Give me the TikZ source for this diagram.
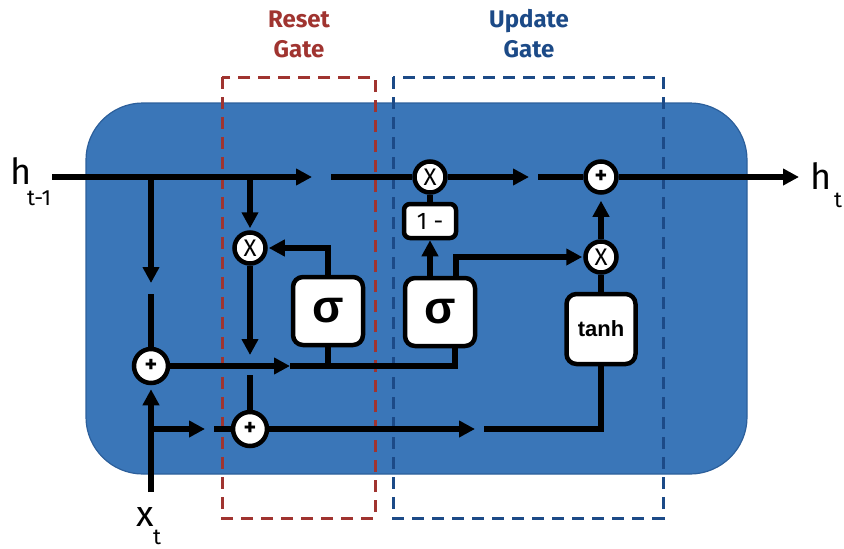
\documentclass[tikz,border=0pt]{standalone}
\usepackage{fontspec}
\setmainfont{Fira Sans}
\newfontfamily\arialfont{Liberation Sans}
\usetikzlibrary{arrows.meta,calc}
\definecolor{cellblue}{RGB}{58,118,184}
\definecolor{celledge}{RGB}{44,95,155}
\definecolor{resetred}{RGB}{160,52,48}
\definecolor{updblue}{RGB}{28,74,135}
\begin{document}
\begin{tikzpicture}[x=1pt,y=-1pt,
  wire/.style={line width=5.5pt, draw=black},
  arr/.style={wire, -{Triangle[length=16pt,width=16pt]}},
  opcirc/.style={circle, draw=black, fill=white, line width=4.5pt, minimum size=31pt, inner sep=0pt, font=\fontsize{24}{24}\selectfont},
  gatebox/.style={draw=black, fill=white, line width=4.5pt, rounded corners=10pt, inner sep=0pt},
  sigbox/.style={gatebox, minimum width=70pt, minimum height=68pt, font=\arialfont\bfseries\fontsize{46}{46}\selectfont},
  gatedash/.style={line width=3pt, dash pattern=on 12pt off 8pt},
  gatelabel/.style={align=center, font=\bfseries\fontsize{24}{30}\selectfont},
  biglbl/.style={anchor=base west, font=\fontsize{36}{36}\selectfont},
  sublbl/.style={anchor=base west, font=\fontsize{22}{22}\selectfont}
]
\useasboundingbox (0,0) rectangle (844,549);
% cell body
\draw[fill=cellblue, draw=celledge, line width=1.2pt, rounded corners=57pt] (86,103) rectangle (747,474);
% gate regions
\draw[gatedash, draw=resetred] (222,77) rectangle (375,518);
\draw[gatedash, draw=updblue] (393,77) rectangle (663,518);
\node[gatelabel, text=resetred] (lreset) at (299,34) {Reset\\Gate};
\node[gatelabel, text=updblue] (lupdate) at (529,34) {Update\\Gate};
% labels
\node[biglbl, inner sep=0pt] (hprev) at (10,184) {h};
\node[sublbl, inner sep=0pt] (hprevsub) at (27,205) {t-1};
\node[biglbl, inner sep=0pt] (hnext) at (810,189) {h};
\node[sublbl, inner sep=0pt] (hnextsub) at (834,207) {t};
\node[biglbl, inner sep=0pt] (xinlbl) at (136,526) {x};
\node[sublbl, inner sep=0pt] (xinsub) at (153,544) {t};
% operation nodes
\node[opcirc] (m1) at (430,177) {X};
\node[opcirc] (p3) at (601,177) {\textbf{+}};
\node[opcirc] (m2) at (250,248) {X};
\node[opcirc] (m3) at (601,257) {X};
\node[opcirc, minimum size=34pt] (p1) at (151,366) {\textbf{+}};
\node[opcirc, minimum size=34pt] (p2) at (250,429) {\textbf{+}};
\node[sigbox] (s1) at (328,311) {σ};
\node[sigbox] (s2) at (440,312) {σ};
\node[gatebox, minimum width=69pt, minimum height=70pt, font=\arialfont\bfseries\fontsize{22}{22}\selectfont] (th) at (601,329) {tanh};
\node[gatebox, rounded corners=6pt, minimum width=52pt, minimum height=34pt, font=\fontsize{24}{24}\selectfont] (one) at (430,221) {1 -};
% coordinates
\coordinate (hin) at (52,177);
\coordinate (b1) at (151,177);
\coordinate (b2) at (250,177);
\coordinate (g1a) at (312,177);
\coordinate (g1b) at (331,177);
\coordinate (g2a) at (529,177);
\coordinate (g2b) at (538,177);
\coordinate (hend) at (799,177);
\coordinate (g3a) at (151,283);
\coordinate (g3b) at (151,294);
\coordinate (g4a) at (250,355);
\coordinate (g4b) at (250,375);
\coordinate (g5a) at (290,366);
\coordinate (s1b) at (328,366);
\coordinate (s2b) at (455,366);
\coordinate (xin) at (151,492);
\coordinate (b3) at (151,429);
\coordinate (g6a) at (205,429);
\coordinate (g6b) at (214,429);
\coordinate (g7a) at (475,429);
\coordinate (g7b) at (484,429);
% wires
\draw[arr] (hin) -- (g1a);
\draw[wire] (g1b) -- (m1);
\draw[arr] (m1) -- (g2a);
\draw[wire] (g2b) -- (p3);
\draw[arr] (p3) -- (hend);
\draw[arr] (b1) -- (g3a);
\draw[wire] (g3b) -- (p1);
\draw[arr, shorten >=2pt] (b2) -- (m2);
\draw[arr, shorten >=1pt] (s1.north) |- (m2);
\draw[arr] (m2) -- (g4a);
\draw[wire] (g4b) -- (p2);
\draw[arr] (p1) -- (g5a);
\draw[wire] (g5a) -- (s2b) -- (s2b |- s2.south);
\draw[wire] (s1.south) -- (s1b);
\draw[arr] (s2.north -| one) -- (one);
\draw[wire] (one) -- (m1);
\draw[arr, shorten >=1pt] ([xshift=16pt]s2.north) |- (m3);
\draw[wire] (th) -- (m3);
\draw[arr, shorten >=6pt] (m3) -- (p3);
\draw[arr, shorten >=4pt] (xin) -- (p1);
\draw[arr] (b3) -- (g6a);
\draw[wire] (g6b) -- (p2);
\draw[arr] (p2) -- (g7a);
\draw[wire] (g7b) -| (th);
\end{tikzpicture}
\end{document}
